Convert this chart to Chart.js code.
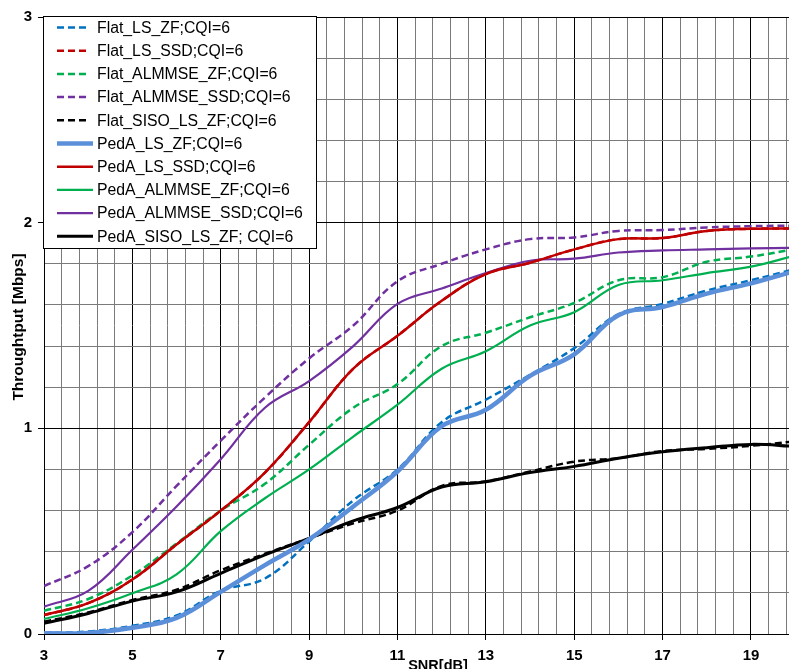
<!DOCTYPE html>
<html><head><meta charset="utf-8">
<script src="https://cdn.jsdelivr.net/npm/chart.js@4/dist/chart.umd.min.js"></script>
<style>html,body{margin:0;padding:0;background:#fff;overflow:hidden}</style>
</head><body>
<canvas id="c" width="789" height="669"></canvas>
<script>
// ---- data ----
const snr = [3,4,5,6,7,8,9,10,11,12,13,14,15,16,17,18,19,20];
const flatLsZf      = [0.005,0.012,0.040,0.090,0.210,0.270,0.450,0.650,0.800,1.030,1.140,1.260,1.390,1.555,1.605,1.670,1.720,1.775];
const flatLsSsd     = [0.092,0.150,0.265,0.435,0.600,0.785,1.030,1.290,1.450,1.620,1.750,1.805,1.870,1.920,1.925,1.960,1.970,1.972];
const flatAlmmseZf  = [0.113,0.170,0.285,0.440,0.600,0.730,0.920,1.100,1.215,1.400,1.465,1.540,1.610,1.720,1.735,1.810,1.835,1.872];
const flatAlmmseSsd = [0.233,0.330,0.495,0.720,0.940,1.150,1.340,1.500,1.715,1.800,1.870,1.920,1.928,1.960,1.964,1.977,1.983,1.986];
const flatSisoLsZf  = [0.060,0.105,0.165,0.215,0.310,0.390,0.465,0.538,0.600,0.720,0.742,0.790,0.838,0.855,0.890,0.900,0.915,0.937];
const pedaLsZf      = [0.003,0.005,0.030,0.078,0.205,0.335,0.460,0.620,0.790,1.010,1.090,1.255,1.360,1.550,1.590,1.655,1.705,1.765];
const pedaLsSsd     = [0.092,0.150,0.265,0.435,0.600,0.785,1.030,1.290,1.450,1.620,1.750,1.805,1.870,1.920,1.925,1.960,1.970,1.972];
const pedaAlmmseZf  = [0.073,0.125,0.198,0.290,0.500,0.660,0.800,0.960,1.115,1.290,1.375,1.500,1.565,1.697,1.720,1.755,1.786,1.840];
const pedaAlmmseSsd = [0.133,0.210,0.410,0.620,0.850,1.100,1.230,1.400,1.605,1.680,1.755,1.815,1.825,1.855,1.865,1.870,1.875,1.878];
const pedaSisoLsZf  = [0.052,0.100,0.160,0.205,0.295,0.385,0.465,0.550,0.615,0.715,0.740,0.785,0.815,0.855,0.886,0.906,0.922,0.912];

const seriesLabels = ['Flat_LS_ZF;CQI=6','Flat_LS_SSD;CQI=6','Flat_ALMMSE_ZF;CQI=6','Flat_ALMMSE_SSD;CQI=6','Flat_SISO_LS_ZF;CQI=6',
  'PedA_LS_ZF;CQI=6','PedA_LS_SSD;CQI=6','PedA_ALMMSE_ZF;CQI=6','PedA_ALMMSE_SSD;CQI=6','PedA_SISO_LS_ZF; CQI=6'];
const xTickLabels = ['3','5','7','9','11','13','15','17','19'];
const yTickLabels = ['0','1','2','3'];
const xTitle = 'SNR[dB]';
const yTitle = 'Throughtput [Mbps]';

// ---- styling ----
const FONT = '"Liberation Sans", Arial, sans-serif';
const seriesValues = [flatLsZf, flatLsSsd, flatAlmmseZf, flatAlmmseSsd, flatSisoLsZf,
  pedaLsZf, pedaLsSsd, pedaAlmmseZf, pedaAlmmseSsd, pedaSisoLsZf];
const styles = [
  {c:'#0070C0', w:2.5, d:[7,4]},
  {c:'#C00000', w:2.5, d:[7,4]},
  {c:'#00B050', w:2.5, d:[7,4]},
  {c:'#7030A0', w:2.5, d:[7,4]},
  {c:'#000000', w:2.5, d:[7,4]},
  {c:'#5B8FD9', w:4.5, d:[]},
  {c:'#C00000', w:2.5, d:[]},
  {c:'#00B050', w:2.2, d:[]},
  {c:'#7030A0', w:2.2, d:[]},
  {c:'#000000', w:3, d:[]}
];

const datasets = seriesValues.map((vals, i) => ({
  label: seriesLabels[i],
  data: vals.map((v, k) => ({x: snr[k], y: v})),
  borderColor: styles[i].c,
  backgroundColor: styles[i].c,
  borderWidth: styles[i].w,
  borderDash: styles[i].d,
  pointRadius: 0,
  fill: false,
  tension: 0.4,
  order: i < 5 ? 1 : 0
}));

const isMajorX = v => Math.abs(((Math.round(v*10)/10) - 3) % 2) < 1e-6;
const isMajorY = v => Math.abs(v - Math.round(v)) < 1e-6;

const overlay = {
  id: 'overlay',
  afterDraw(chart) {
    const ctx = chart.ctx;
    ctx.save();
    // legend box
    const bx = 43.5, by = 16.5, bw = 273, bh = 232;
    ctx.fillStyle = '#fff';
    ctx.fillRect(bx, by, bw, bh);
    ctx.strokeStyle = '#000'; ctx.lineWidth = 1; ctx.setLineDash([]);
    ctx.strokeRect(bx, by, bw, bh);
    ctx.font = '15.8px ' + FONT;
    ctx.textBaseline = 'middle';
    ctx.fillStyle = '#000';
    chart.data.datasets.forEach((ds, i) => {
      const y = 27.5 + i * 23.2;
      ctx.beginPath();
      ctx.strokeStyle = ds.borderColor;
      ctx.lineWidth = ds.borderWidth;
      ctx.setLineDash(ds.borderDash);
      ctx.moveTo(57, y);
      ctx.lineTo(ds.borderDash.length ? 89 : 93, y);
      ctx.stroke();
      ctx.setLineDash([]);
      ctx.fillStyle = '#000';
      ctx.fillText(ds.label, 97, y + 1);
    });
    // axis titles
    ctx.font = 'bold 14.5px ' + FONT;
    ctx.textAlign = 'center';
    ctx.textBaseline = 'alphabetic';
    ctx.fillText(xTitle, 438, 670);
    ctx.font = 'bold 15.5px ' + FONT;
    ctx.translate(23, 327);
    ctx.rotate(-Math.PI / 2);
    ctx.fillText(yTitle, 0, 0);
    ctx.restore();
  }
};

new Chart(document.getElementById('c'), {
  type: 'line',
  data: {datasets},
  plugins: [overlay],
  options: {
    responsive: false,
    animation: false,
    devicePixelRatio: 1,
    layout: {padding: {top: 17, right: 0, left: 0, bottom: 0}},
    plugins: {legend: {display: false}, tooltip: {enabled: false}, title: {display: false}},
    scales: {
      x: {
        type: 'linear', min: 3, max: 19.86,
        afterBuildTicks(scale) {
          const t = [];
          for (let i = 0; i <= 42; i++) t.push({value: Math.round((3 + 0.4 * i) * 10) / 10});
          scale.ticks = t;
        },
        afterFit(scale) { scale.height = 35; scale.paddingLeft = 0; scale.paddingRight = 0; },
        ticks: {
          autoSkip: false, maxRotation: 0, minRotation: 0, padding: 7,
          color: '#000', font: {family: FONT, size: 15, weight: 'bold'},
          callback(v) { const r = Math.round(v*10)/10; return (isMajorX(r) && xTickLabels.includes(String(r))) ? String(r) : ''; }
        },
        grid: {
          color: c => (c.tick && isMajorX(c.tick.value)) ? '#000' : '#7a7a7a',
          tickColor: c => (c.tick && isMajorX(c.tick.value)) ? '#000' : 'rgba(0,0,0,0)',
          lineWidth: 1, tickLength: 6
        },
        border: {color: '#000', width: 1}
      },
      y: {
        type: 'linear', min: 0, max: 3,
        afterBuildTicks(scale) {
          const t = [];
          for (let i = 0; i <= 15; i++) t.push({value: Math.round(0.2 * i * 10) / 10});
          scale.ticks = t;
        },
        afterFit(scale) { scale.width = 44; scale.paddingTop = 0; scale.paddingBottom = 0; },
        ticks: {
          padding: 6, color: '#000', font: {family: FONT, size: 15, weight: 'bold'},
          callback(v) { return (isMajorY(v) && yTickLabels.includes(String(Math.round(v)))) ? String(Math.round(v)) : ''; }
        },
        grid: {
          color: c => (c.tick && isMajorY(c.tick.value)) ? '#000' : '#7a7a7a',
          tickColor: c => (c.tick && isMajorY(c.tick.value)) ? '#000' : 'rgba(0,0,0,0)',
          lineWidth: 1, tickLength: 6
        },
        border: {color: '#000', width: 1}
      }
    }
  }
});
</script>
</body></html>
